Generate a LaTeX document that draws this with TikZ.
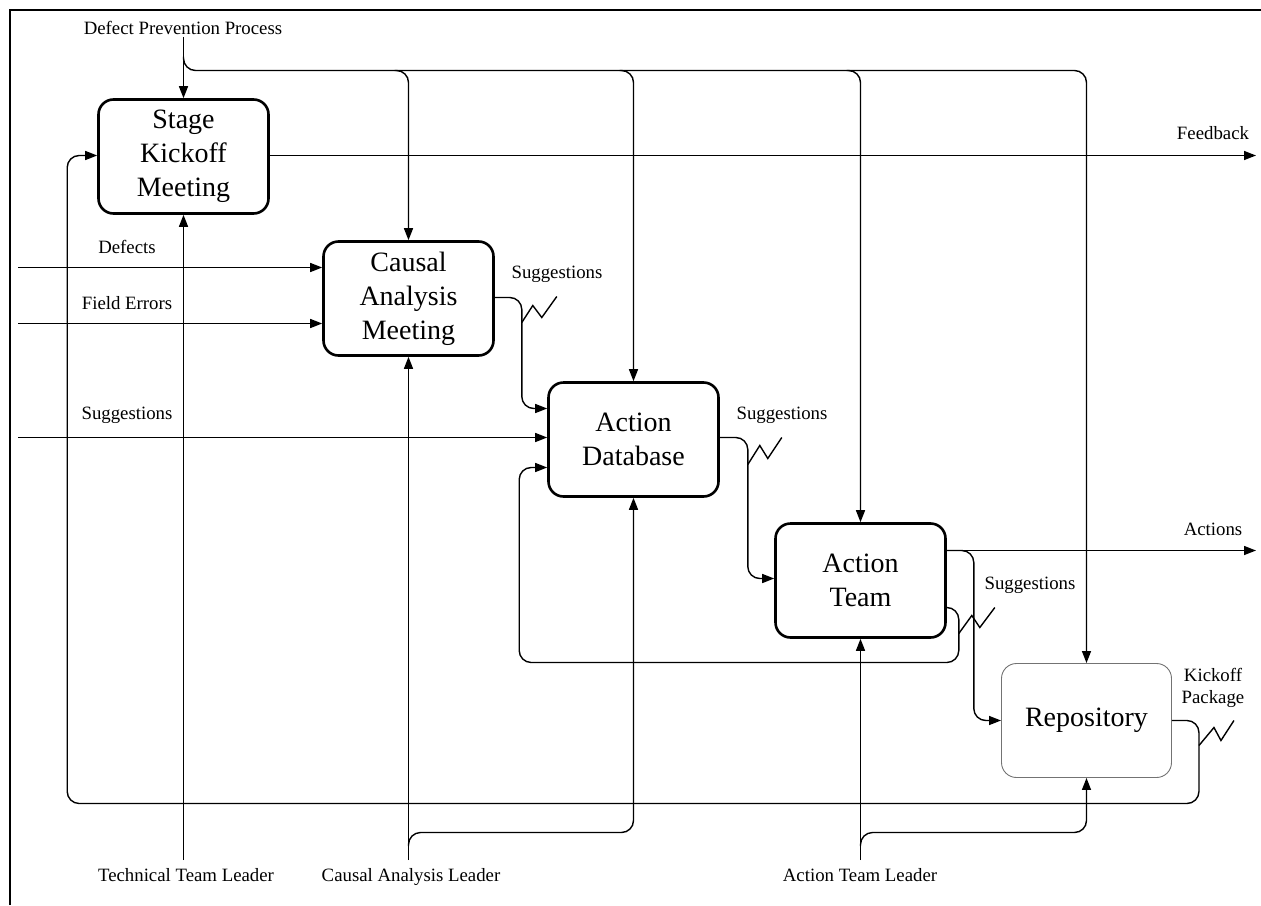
\documentclass[tikz,border=0pt]{standalone}
\usepackage{fontspec}
\setmainfont{Liberation Serif}
\usetikzlibrary{arrows.meta,calc}
\begin{document}
\begin{tikzpicture}[x=1pt,y=-1pt,
  proc/.style={draw, line width=2.6pt, rounded corners=15pt, minimum width=170pt,
    minimum height=114pt, align=center, inner sep=0pt,
    font=\fontsize{28}{34}\selectfont},
  store/.style={proc, draw=black!55, line width=0.9pt},
  lbl/.style={font=\fontsize{18.8}{22}\selectfont, align=center, inner sep=2pt},
  foot/.style={lbl, anchor=base},
  flow/.style={line width=1.4pt, rounded corners=12pt},
  arr/.style={flow, -{Triangle[length=12pt,width=9pt]}},
  zig/.style={line width=1.4pt, line join=miter},
]
\useasboundingbox (0,0) rectangle (1261,905);

% frame
\draw[line width=1.8pt] (10,905) -- (10,10) -- (1261,10);

% activities
\node[proc]  (skm)  at (183.5,156.5) {Stage\\Kickoff\\Meeting};
\node[proc]  (cam)  at (408.5,298.5) {Causal\\Analysis\\Meeting};
\node[proc]  (adb)  at (633.5,439.5) {Action\\Database};
\node[proc]  (at)   at (860.5,580.5) {Action\\Team};
\node[store] (repo) at (1086.5,720.5) {Repository};

% labels
\node[lbl] (dpp)  at (183,28)   {Defect Prevention Process};
\node[lbl] (fbl)  at (1213,133) {Feedback};
\node[lbl] (defl) at (127,247)  {Defects};
\node[lbl] (fel)  at (127,303)  {Field Errors};
\node[lbl] (sgl)  at (127,415)  {Suggestions};
\node[lbl] (s1)   at (557,274)  {Suggestions};
\node[lbl] (s2)   at (782,415)  {Suggestions};
\node[lbl] (s3)   at (1030,585) {Suggestions};
\node[lbl] (actl) at (1213,529) {Actions};
\node[lbl] (kpl)  at (1213,688) {Kickoff\\Package};
\node[foot] (ttl) at (186,881)  {Technical Team Leader};
\node[foot] (cal) at (411,881)  {Causal Analysis Leader};
\node[foot] (atl) at (860,881)  {Action Team Leader};

% reference lines and free ends
\coordinate (bus)    at (185,70.5);
\coordinate (defin)  at (18,267.5);
\coordinate (fein)   at (18,323.5);
\coordinate (sgin)   at (18,437.5);
\coordinate (fbout)  at (1256,155.5);
\coordinate (actout) at (1256,550.5);
\coordinate (base)   at (0,860);
\coordinate (mbus)   at (0,832.5);
\coordinate (loop)   at (0,803.5);

% controls from the top
\draw[arr] (skm.north |- dpp.south) -- (skm.north);
\draw[arr] ($(skm.north |- bus)+(0,-14)$) -- (skm.north |- bus) -- (repo.north |- bus) -- (repo.north);
\foreach \n in {cam,adb,at}
  \draw[arr] ($(\n.north |- bus)+(-14,0)$) -- (\n.north |- bus) -- (\n.north);

% inputs from the left
\draw[arr] (defin) -- (defin -| cam.west);
\draw[arr] (fein) -- (fein -| cam.west);
\draw[arr] (sgin) -- (sgin -| adb.west);

% feedback out
\draw[arr] (skm.east |- fbout) -- (fbout);

% causal analysis -> action database
\draw[arr] ($(cam.east)+(0,-1)$) -- ++(27,0) |- ($(adb.west)+(0,-31)$);
\draw[zig] ($(cam.east)+(27,24)$) -- ++(11,-17) -- ++(9,12) -- ++(15,-21);

% action database -> action team
\draw[arr] ($(adb.east)+(0,-2)$) -- ++(28,0) |- ($(at.west)+(0,-2)$);
\draw[zig] ($(adb.east)+(28,25)$) -- ++(12,-19) -- ++(8,13) -- ++(14,-21);

% action team outputs
\coordinate (atup) at ($(at.east)+(0,-30)$);
\coordinate (atlo) at ($(at.east)+(0,27)$);
\draw[arr] (atup) -- (actout);
\draw[arr] (atup) -- ++(27,0) |- (repo.west);
\draw[arr] (atlo) -- ++(12,0) -- ++(0,55) -| ($(adb.west)+(-28,28)$) -- ($(adb.west)+(0,28)$);
\draw[zig] ($(atlo)+(12,26)$) -- ++(13,-18) -- ++(8,12) -- ++(15,-20);

% repository -> stage kickoff
\draw[arr] (repo.east) -- ++(27,0) |- ($(skm.west |- loop)+(-30,0)$) |- ($(skm.west)+(0,-1)$);
\draw[zig] ($(repo.east)+(27,25)$) -- ++(15,-18) -- ++(7,13) -- ++(13,-20);

% mechanisms from the bottom
\draw[arr] (skm.south |- base) -- (skm.south);
\draw[arr] (cam.south |- base) -- (cam.south);
\draw[arr] ($(cam.south |- base)+(0,-14)$) |- (adb.south |- mbus) -- (adb.south);
\draw[arr] (at.south |- base) -- (at.south);
\draw[arr] ($(at.south |- base)+(0,-14)$) |- (repo.south |- mbus) -- (repo.south);
\end{tikzpicture}
\end{document}
